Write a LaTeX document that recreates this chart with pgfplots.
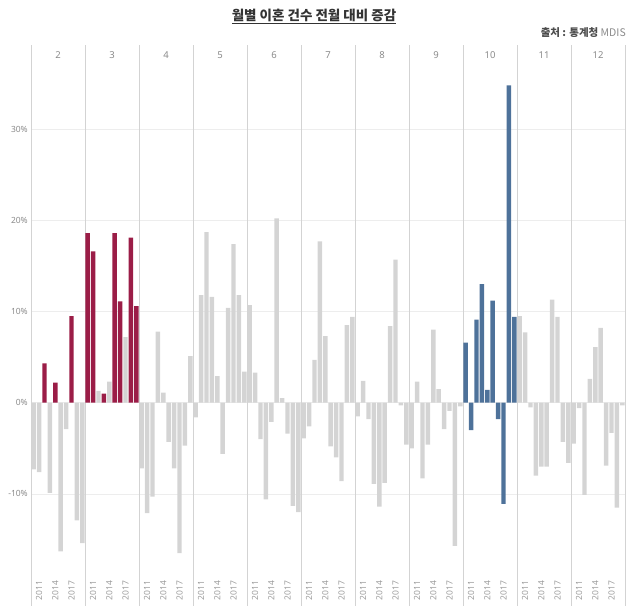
\documentclass[border=0pt]{standalone}
\usepackage{pgfplots}
\pgfplotsset{compat=1.18}
\usepackage{pgfplotstable}
\usepackage{fontspec}
\setmainfont{Noto Sans}
\newfontfamily\kr{Noto Sans CJK KR}
\definecolor{barred}{HTML}{9B1D47}
\definecolor{barblue}{HTML}{4E729A}
\definecolor{bargray}{HTML}{D4D4D4}
\definecolor{txtgray}{HTML}{8A8A8A}
\definecolor{divgray}{HTML}{D3D3D3}
\definecolor{gridgray}{HTML}{EDEDED}

% x = 10*(month-2) + (year-2010) + 0.5
\pgfplotstableread{
x y
0.5 -7.3
1.5 -7.6
3.5 -9.9
5.5 -16.3
6.5 -2.9
8.5 -12.9
9.5 -15.4
12.5 1.3
14.5 2.3
17.5 7.2
20.5 -7.2
21.5 -12.1
22.5 -10.3
23.5 7.8
24.5 1.1
25.5 -4.3
26.5 -7.2
27.5 -16.5
28.5 -4.7
29.5 5.1
30.5 -1.6
31.5 11.8
32.5 18.7
33.5 11.6
34.5 2.9
35.5 -5.6
36.5 10.4
37.5 17.4
38.5 11.8
39.5 3.4
40.5 10.7
41.5 3.3
42.5 -4.0
43.5 -10.6
44.5 -2.1
45.5 20.2
46.5 0.5
47.5 -3.4
48.5 -11.3
49.5 -12.0
50.5 -3.9
51.5 -2.6
52.5 4.7
53.5 17.7
54.5 7.3
55.5 -4.8
56.5 -6.0
57.5 -8.6
58.5 8.5
59.5 9.4
60.5 -1.5
61.5 2.4
62.5 -1.8
63.5 -8.9
64.5 -11.4
65.5 -8.8
66.5 8.4
67.5 15.7
68.5 -0.3
69.5 -4.6
70.5 -5.0
71.5 2.3
72.5 -8.3
73.5 -4.6
74.5 8.0
75.5 1.5
76.5 -2.9
77.5 -0.9
78.5 -15.7
79.5 -0.4
90.5 9.5
91.5 7.7
92.5 -0.5
93.5 -8.0
94.5 -7.0
95.5 -7.0
96.5 11.3
97.5 9.4
98.5 -4.3
99.5 -6.6
100.5 -4.5
101.5 -0.6
102.5 -10.1
103.5 2.6
104.5 6.1
105.5 8.2
106.5 -6.9
107.5 -3.3
108.5 -11.5
109.5 -0.3
}\graytab

\pgfplotstableread{
x y
2.5 4.3
4.5 2.2
7.5 9.5
10.5 18.6
11.5 16.6
13.5 1.0
15.5 18.6
16.5 11.1
18.5 18.1
19.5 10.6
}\redtab

\pgfplotstableread{
x y
80.5 6.6
81.5 -3.0
82.5 9.1
83.5 13.0
84.5 1.4
85.5 11.2
86.5 -1.8
87.5 -11.1
88.5 34.8
89.5 9.4
}\bluetab

\begin{document}
\begin{tikzpicture}[x=1pt,y=1pt]
\path[use as bounding box] (0,0) rectangle (630,610);
\node[font=\kr\bfseries\fontsize{13.5}{15}\selectfont, text=black!80] at (314,594) {\underline{월별 이혼 건수 전월 대비 증감}};
\node[anchor=east, font=\kr\fontsize{10.5}{12}\selectfont, inner sep=0pt, text=black!70] at (626,577) {\textbf{출처 : 통계청} \textcolor{txtgray}{MDIS}};
\begin{axis}[
  at={(31pt,32pt)}, anchor=south west,
  width=594pt, height=533pt, scale only axis,
  xmin=0, xmax=110, ymin=-19.22, ymax=39.22,
  axis line style={draw=none},
  tick style={draw=none},
  major tick length=0pt,
  xtick pos=lower, ytick pos=left,
  xtick={1.5,4.5,7.5,11.5,14.5,17.5,21.5,24.5,27.5,31.5,34.5,37.5,41.5,44.5,47.5,51.5,54.5,57.5,61.5,64.5,67.5,71.5,74.5,77.5,81.5,84.5,87.5,91.5,94.5,97.5,101.5,104.5,107.5},
  xticklabels={2011,2014,2017,2011,2014,2017,2011,2014,2017,2011,2014,2017,2011,2014,2017,2011,2014,2017,2011,2014,2017,2011,2014,2017,2011,2014,2017,2011,2014,2017,2011,2014,2017},
  xticklabel style={rotate=90, anchor=east, font=\fontsize{8.5}{10}\selectfont, text=txtgray!85, inner sep=2.5pt},
  ytick={-10,0,10,20,30},
  yticklabels={-10\%,0\%,10\%,20\%,30\%},
  yticklabel style={font=\fontsize{8.5}{10}\selectfont, text=txtgray, inner sep=3pt},
  ymajorgrids=true,
  y grid style={draw=gridgray, line width=0.7pt},
  extra x ticks={0,10,20,30,40,50,60,70,80,90,100,110},
  extra x tick labels={},
  extra x tick style={grid=major, major grid style={draw=divgray, line width=0.8pt},
     tick style={draw=divgray, line width=0.8pt}, major tick length=28pt, tick align=outside},
  /pgf/number format/assume math mode=true,
  clip=false,
]
\addplot[ybar, bar width=0.82, bar shift=0pt, fill=bargray, draw=none] table[x=x,y=y] {\graytab};
\addplot[ybar, bar width=0.82, bar shift=0pt, fill=barred, draw=none] table[x=x,y=y] {\redtab};
\addplot[ybar, bar width=0.82, bar shift=0pt, fill=barblue, draw=none] table[x=x,y=y] {\bluetab};
\begin{scope}[every node/.style={font=\fontsize{9.5}{11}\selectfont, text=txtgray}]
\node at (axis cs:5,38.1) {2};
\node at (axis cs:15,38.1) {3};
\node at (axis cs:25,38.1) {4};
\node at (axis cs:35,38.1) {5};
\node at (axis cs:45,38.1) {6};
\node at (axis cs:55,38.1) {7};
\node at (axis cs:65,38.1) {8};
\node at (axis cs:75,38.1) {9};
\node at (axis cs:85,38.1) {10};
\node at (axis cs:95,38.1) {11};
\node at (axis cs:105,38.1) {12};
\end{scope}
\end{axis}
\end{tikzpicture}
\end{document}
